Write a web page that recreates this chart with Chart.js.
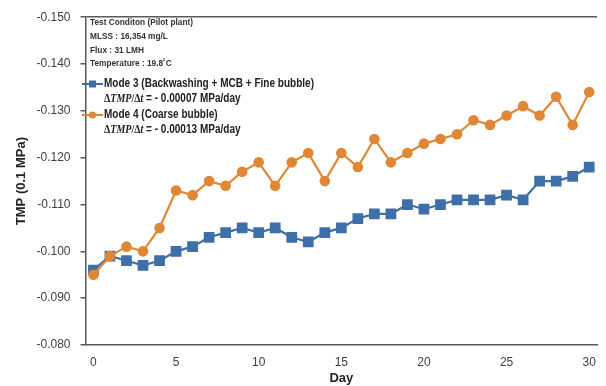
<!DOCTYPE html>
<html>
<head>
<meta charset="utf-8">
<script src="https://cdn.jsdelivr.net/npm/chart.js@4.4.1/dist/chart.umd.min.js"></script>
<style>
  html, body { margin: 0; padding: 0; background: #fff; }
  #wrap { width: 606px; height: 386px; }
</style>
</head>
<body>
<div id="wrap"><canvas id="tmp-chart" width="606" height="386"></canvas></div>
<script>
/* ===================== DATA ===================== */

const days = [0, 1, 2, 3, 4, 5, 6, 7, 8, 9, 10, 11, 12, 13, 14, 15,
  16, 17, 18, 19, 20, 21, 22, 23, 24, 25, 26, 27, 28, 29, 30];

// Mode 3 (Backwashing + MCB + Fine bubble)
const mode3Tmp = [-0.096, -0.099, -0.098, -0.097, -0.098, -0.100, -0.101, -0.103,
  -0.104, -0.105, -0.104, -0.105, -0.103, -0.102, -0.104, -0.105, -0.107, -0.108,
  -0.108, -0.110, -0.109, -0.110, -0.111, -0.111, -0.111, -0.112, -0.111, -0.115,
  -0.115, -0.116, -0.118];

// Mode 4 (Coarse bubble)
const mode4Tmp = [-0.095, -0.099, -0.101, -0.100, -0.105, -0.113, -0.112, -0.115,
  -0.114, -0.117, -0.119, -0.114, -0.119, -0.121, -0.115, -0.121, -0.118, -0.124,
  -0.119, -0.121, -0.123, -0.124, -0.125, -0.128, -0.127, -0.129, -0.131, -0.129,
  -0.133, -0.127, -0.134];

const xTicks = [0, 5, 10, 15, 20, 25, 30];

const testConditions = [
  "Test Conditon (Pilot plant)",
  "MLSS : 16,354 mg/L",
  "Flux : 31 LMH",
  "Temperature : 19.8˚C",
];

const legendRates = ["- 0.00007 MPa/day", "- 0.00013 MPa/day"];

/* ===================== STYLE ===================== */

const BLUE = "#3e6fa8";
const ORANGE = "#e08634";
const AXIS = "#595959";
const TEXT = "#404040";
const SANS = "'Liberation Sans', sans-serif";
const SERIF = "'Liberation Serif', 'DejaVu Serif', serif";

/* ===================== ANNOTATION PLUGIN ===================== */

// draws runs of differently styled text, squeezed horizontally by sx
// (the original uses a narrow Calibri-like face)
function drawRuns(ctx, runs, x, y, sx) {
  ctx.save();
  ctx.translate(x, y);
  ctx.scale(sx, 1);
  let cx = 0;
  runs.forEach(([text, font]) => {
    ctx.font = font;
    ctx.fillText(text, cx, 0);
    cx += ctx.measureText(text).width;
  });
  ctx.restore();
}

const annotationPlugin = {
  id: "annotations",
  afterDraw(chart) {
    const ctx = chart.ctx;
    ctx.save();
    ctx.textBaseline = "middle";
    ctx.textAlign = "left";

    // test conditions
    ctx.fillStyle = "#333";
    const condFont = `bold 9.5px ${SANS}`;
    ctx.font = condFont;
    const condSx = 103 / ctx.measureText(testConditions[0]).width;
    const condY = [22, 36, 50, 63];
    testConditions.forEach((line, i) => drawRuns(ctx, [[line, condFont]], 90, condY[i], condSx));

    // legend entries
    const legFont = `bold 12px ${SANS}`;
    ctx.font = legFont;
    const legSx = 210 / ctx.measureText(chart.data.datasets[0].label).width;
    const rows = [84, 115];
    chart.data.datasets.forEach((ds, i) => {
      const y = rows[i];
      ctx.strokeStyle = ds.borderColor;
      ctx.lineWidth = 2;
      ctx.beginPath();
      ctx.moveTo(82, y);
      ctx.lineTo(103, y);
      ctx.stroke();
      ctx.fillStyle = ds.backgroundColor;
      ctx.beginPath();
      if (ds.pointStyle === "rect") ctx.rect(89, y - 3.5, 7, 7);
      else ctx.arc(92.5, y, 3.5, 0, Math.PI * 2);
      ctx.fill();

      ctx.fillStyle = "#222";
      drawRuns(ctx, [[ds.label, legFont]], 104, y, legSx);
      drawRuns(ctx, [
        ["Δ", `bold 12px ${SERIF}`],
        ["TMP", `bold italic 12px ${SERIF}`],
        ["/Δ", `bold 12px ${SERIF}`],
        ["t", `bold italic 12px ${SERIF}`],
        [" = " + legendRates[i], legFont],
      ], 104, y + 15, legSx);
    });
    ctx.restore();
  },
};

/* ===================== CHART ===================== */

new Chart(document.getElementById("tmp-chart"), {
  type: "line",
  data: {
    labels: days,
    datasets: [
      {
        label: "Mode 3 (Backwashing + MCB + Fine bubble)",
        data: days.map((d, i) => ({ x: d, y: mode3Tmp[i] })),
        borderColor: BLUE,
        backgroundColor: BLUE,
        borderWidth: 2.2,
        pointStyle: "rect",
        pointRadius: 7.6,
        pointBorderWidth: 0,
        tension: 0,
        order: 1,
      },
      {
        label: "Mode 4 (Coarse bubble)",
        data: days.map((d, i) => ({ x: d, y: mode4Tmp[i] })),
        borderColor: ORANGE,
        backgroundColor: ORANGE,
        borderWidth: 2.2,
        pointStyle: "circle",
        pointRadius: 5.3,
        pointBorderWidth: 0,
        tension: 0,
        order: 0,
      },
    ],
  },
  options: {
    responsive: false,
    animation: false,
    devicePixelRatio: 1,
    layout: { padding: 0 },
    plugins: {
      legend: { display: false },
      tooltip: { enabled: false },
    },
    scales: {
      x: {
        type: "linear",
        min: -0.48,
        max: 30.48,
        afterBuildTicks: (s) => { s.ticks = xTicks.map((v) => ({ value: v })); },
        afterFit: (s) => { s.height = 41; },
        grid: { display: false, drawTicks: false },
        border: { display: true, color: AXIS, width: 1.5 },
        ticks: {
          padding: 10,
          color: TEXT,
          font: { family: SANS, size: 12 },
        },
        title: {
          display: true,
          text: "Day",
          color: "#222",
          padding: { top: 0, bottom: 0 },
          font: { family: SANS, size: 13, weight: "bold" },
        },
      },
      y: {
        reverse: true,
        min: -0.15,
        max: -0.08,
        afterFit: (s) => { s.width = 85.5; },
        ticks: {
          stepSize: 0.01,
          padding: 10,
          color: TEXT,
          font: { family: SANS, size: 12 },
          callback: (v) => v.toFixed(3),
        },
        grid: {
          drawOnChartArea: true,
          tickLength: 5,
          tickColor: AXIS,
          lineWidth: 1.5,
          color: (c) => (c.tick && Math.abs(c.tick.value + 0.15) < 1e-9 ? AXIS : "rgba(0,0,0,0)"),
        },
        border: { display: true, color: AXIS, width: 1.5 },
        title: {
          display: true,
          text: "TMP (0.1 MPa)",
          color: "#222",
          padding: { top: 14, bottom: 0 },
          font: { family: SANS, size: 13, weight: "bold" },
        },
      },
    },
  },
  plugins: [annotationPlugin],
});
</script>
</body>
</html>
